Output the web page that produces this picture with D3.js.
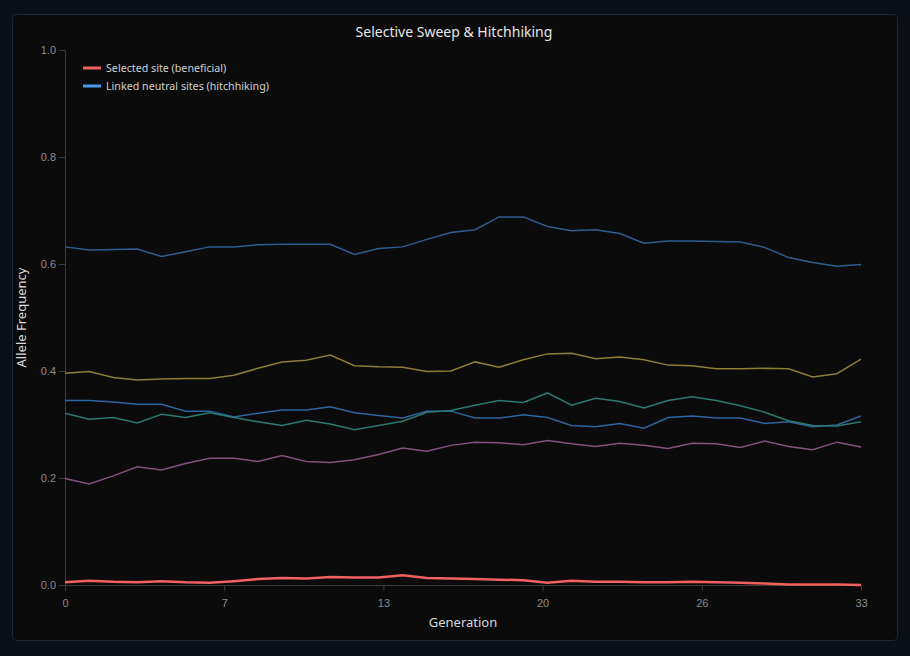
<!DOCTYPE html>
<html>
<head>
<meta charset="utf-8">
<script src="https://cdn.jsdelivr.net/npm/d3@7"></script>
<style>
  html, body { margin: 0; padding: 0; background: #0b0f18; }
  svg { display: block; font-family: "Noto Sans", "Open Sans", sans-serif; }
  .axis path, .axis line { stroke: #3a3a3a; }
  .axis text { fill: #8c8c8c; font-size: 11px; }
</style>
</head>
<body>
<svg id="chart" width="910" height="656"></svg>
<script>
// Data
const generations = d3.range(0, 34);
const selectedSite = [0.005, 0.008, 0.006, 0.005, 0.007, 0.005, 0.004, 0.007, 0.011, 0.013, 0.012, 0.015, 0.014, 0.014, 0.018, 0.013, 0.012,
    0.011, 0.010, 0.009, 0.004, 0.008, 0.006, 0.006, 0.005, 0.005, 0.006, 0.005, 0.004, 0.003, 0.001, 0.001, 0.001, 0.000];
const neutralA = [0.632, 0.626, 0.627, 0.628, 0.614, 0.623, 0.632, 0.632, 0.636, 0.637, 0.637, 0.637, 0.618, 0.629, 0.632, 0.646, 0.659,
    0.664, 0.688, 0.688, 0.670, 0.662, 0.664, 0.657, 0.639, 0.643, 0.643, 0.642, 0.641, 0.631, 0.612, 0.603, 0.596, 0.599];
const neutralB = [0.396, 0.399, 0.388, 0.383, 0.385, 0.386, 0.386, 0.392, 0.405, 0.417, 0.420, 0.430, 0.410, 0.408, 0.407, 0.399, 0.400,
    0.417, 0.407, 0.421, 0.432, 0.433, 0.423, 0.426, 0.421, 0.411, 0.410, 0.404, 0.404, 0.405, 0.404, 0.389, 0.395, 0.422];
const neutralC = [0.345, 0.345, 0.342, 0.338, 0.338, 0.325, 0.325, 0.314, 0.321, 0.327, 0.327, 0.333, 0.322, 0.317, 0.312, 0.325, 0.325,
    0.312, 0.312, 0.318, 0.313, 0.298, 0.296, 0.302, 0.293, 0.313, 0.316, 0.312, 0.312, 0.302, 0.305, 0.296, 0.299, 0.316];
const neutralD = [0.321, 0.310, 0.313, 0.303, 0.319, 0.313, 0.322, 0.313, 0.305, 0.298, 0.308, 0.301, 0.290, 0.298, 0.306, 0.323, 0.326,
    0.336, 0.345, 0.341, 0.359, 0.336, 0.349, 0.343, 0.331, 0.345, 0.352, 0.345, 0.335, 0.323, 0.307, 0.298, 0.297, 0.305];
const neutralE = [0.199, 0.189, 0.204, 0.221, 0.215, 0.227, 0.237, 0.237, 0.231, 0.242, 0.231, 0.229, 0.234, 0.244, 0.256, 0.250, 0.261,
    0.267, 0.266, 0.262, 0.270, 0.264, 0.259, 0.265, 0.261, 0.255, 0.265, 0.264, 0.257, 0.269, 0.259, 0.253, 0.267, 0.258];
const neutralSeries = [neutralA, neutralB, neutralC, neutralD, neutralE];
const neutralColors = ['#2f5d8e', '#8c7d38', '#2e64a0', '#2a7a70', '#84527e'];
const legendLabels = ['Selected site (beneficial)', 'Linked neutral sites (hitchhiking)'];
const legendColors = ['#f26060', '#4a9af0'];
const yTicks = [0, 0.2, 0.4, 0.6, 0.8, 1.0];

/**
 * Layout.
 */
const margin = { top: 50, right: 49, bottom: 71, left: 65 };
const visWidth = 910, visHeight = 656;
const width = visWidth - margin.left - margin.right,
    height = visHeight - margin.top - margin.bottom;

const svg = d3.select('#chart');

// Panel
svg.append('rect')
    .attr('x', 12.5).attr('y', 14.5)
    .attr('width', 885).attr('height', 626)
    .attr('rx', 4)
    .attr('fill', '#0b0b0b')
    .attr('stroke', '#1b2633');

svg.append('text')
    .attr('x', 454).attr('y', 37)
    .attr('text-anchor', 'middle')
    .attr('fill', '#e6e6e6')
    .style('font-size', '14px')
    .text('Selective Sweep & Hitchhiking');

const g = svg.append('g').attr('transform', 'translate(' + margin.left + ',' + margin.top + ')');

/**
 * Scales and axes.
 */
const xScale = d3.scaleLinear().domain([0, 33]).range([0, width]),
    yScale = d3.scaleLinear().domain([0, 1]).range([height, 0]);

const xAxis = d3.axisBottom(xScale)
    .tickValues(d3.range(0, 6).map(i => 33 * i / 5))
    .tickFormat(d3.format('.0f'))
    .tickSizeOuter(0);
const yAxis = d3.axisLeft(yScale)
    .tickValues(yTicks)
    .tickFormat(d3.format('.1f'))
    .tickSizeOuter(0);

g.append('g').attr('class', 'axis x-axis')
    .attr('transform', 'translate(0,' + height + ')')
    .call(xAxis)
    .call(s => s.selectAll('text').attr('dy', '1.2em'));
g.append('g').attr('class', 'axis y-axis')
    .call(yAxis);

// Axis labels
g.append('text')
    .attr('x', width / 2).attr('y', height + 42)
    .attr('text-anchor', 'middle')
    .attr('fill', '#d8d8d8')
    .style('font-size', '13px')
    .text('Generation');
g.append('text')
    .attr('transform', 'translate(' + (-39) + ',' + (height / 2) + ') rotate(-90)')
    .attr('text-anchor', 'middle')
    .attr('fill', '#d8d8d8')
    .style('font-size', '13px')
    .text('Allele Frequency');

/**
 * Lines.
 */
const line = d3.line()
    .x((d, i) => xScale(generations[i]))
    .y(d => yScale(d));

g.append('g').attr('class', 'neutral')
    .selectAll('path').data(neutralSeries)
    .enter().append('path')
        .attr('fill', 'none')
        .attr('stroke', (d, i) => neutralColors[i])
        .attr('stroke-width', 1.5)
        .attr('d', line);

g.append('path')
    .attr('class', 'selected')
    .attr('fill', 'none')
    .attr('stroke', '#f26060')
    .attr('stroke-width', 2.5)
    .attr('d', line(selectedSite));

/**
 * Legend.
 */
const legend = g.append('g').attr('transform', 'translate(18,18)')
    .selectAll('g').data(legendLabels)
    .enter().append('g')
        .attr('transform', (d, i) => 'translate(0,' + i * 18 + ')');
legend.append('line')
    .attr('x1', 0).attr('x2', 18)
    .attr('stroke', (d, i) => legendColors[i])
    .attr('stroke-width', 3);
legend.append('text')
    .attr('x', 23).attr('dy', '0.35em')
    .attr('fill', '#d0d0d0')
    .style('font-size', '10.7px')
    .text(d => d);
</script>
</body>
</html>
